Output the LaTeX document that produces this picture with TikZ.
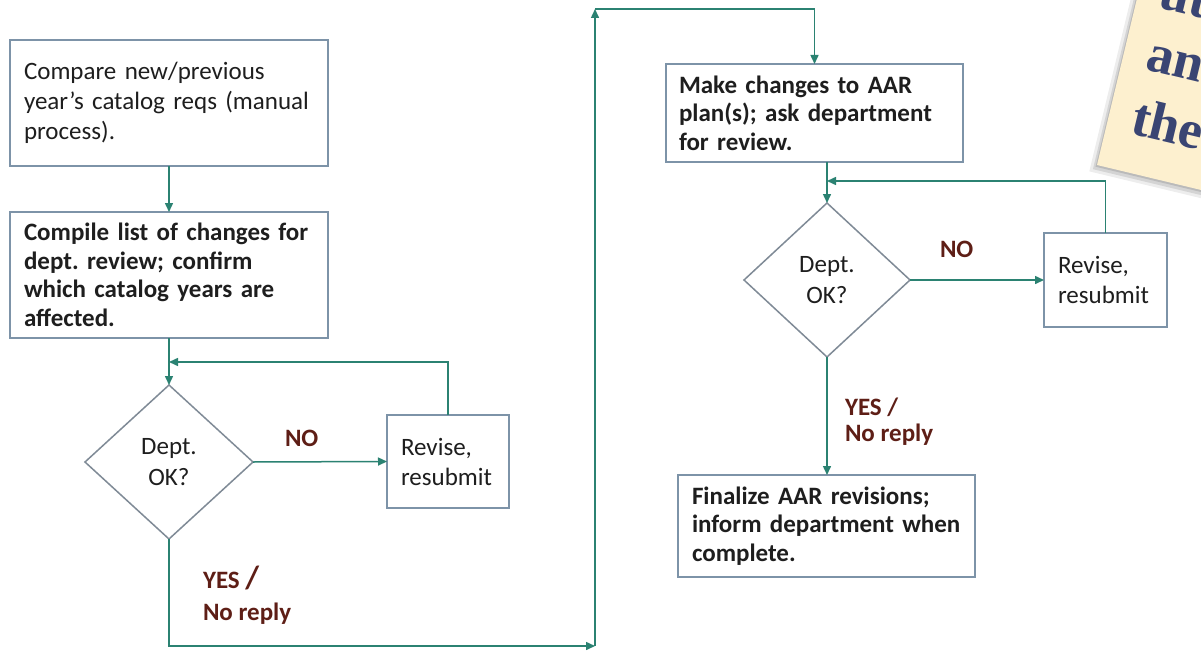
\documentclass[tikz,border=0pt]{standalone}
\usepackage{fontspec}
\setmainfont{Carlito}
\newfontfamily\notefont{Liberation Serif}
\usetikzlibrary{shapes.geometric,arrows.meta}
\definecolor{conncol}{HTML}{2B8272}
\definecolor{boxline}{HTML}{7D93A8}
\definecolor{dline}{HTML}{7F8A96}
\definecolor{lab}{HTML}{5E1E16}
\definecolor{notefill}{HTML}{FDF0CF}
\definecolor{notetext}{HTML}{3A4573}
\definecolor{txt}{HTML}{1E1E1E}
\frenchspacing
\begin{document}
\begin{tikzpicture}[x=1pt,y=-1pt,
  every node/.style={inner sep=0pt, outer sep=0pt},
  stepbox/.style={draw=boxline, line width=1.8pt, fill=white, text=txt, align=left,
    inner xsep=14pt, anchor=north west, font=\fontsize{25}{30}\selectfont},
  boldbox/.style={stepbox, font=\fontsize{25}{28.5}\selectfont\bfseries},
  decision/.style={diamond, draw=dline, line width=1.5pt, fill=white, text=txt,
    align=center, font=\fontsize{25}{31}\selectfont},
  conn/.style={draw=conncol, line width=1.5pt, -{Triangle[length=9pt,width=8pt]}},
  lbl/.style={text=lab, font=\fontsize{25}{30}\selectfont\bfseries, anchor=base west},
  notetxt/.style={text=notetext, font=\notefont\bfseries\fontsize{54}{56}\selectfont, anchor=base west}]
\useasboundingbox (0,0) rectangle (1201,650);
\fill[white] (0,0) rectangle (1201,650);

% sticky note
\begin{scope}
\clip (0,0) rectangle (1201,650);
\begin{scope}[shift={(1097,165)}, rotate=-13.5, transform shape]
  \fill[black, opacity=0.07] (-6,8) rectangle (320,-320);
  \fill[black, opacity=0.10] (-3,5) rectangle (320,-320);
  \fill[black, opacity=0.12] (-1,2) rectangle (320,-320);
  \fill[notefill] (0,0) rectangle (320,-320);
  \node[notetxt] (n1) at (22,-167) {ut};
  \node[notetxt] (n2) at (24,-104) {an};
  \node[notetxt] (n3) at (24,-38) {the};
\end{scope}
\end{scope}

% left column
\node[stepbox, text width=290pt, minimum width=318pt, minimum height=126pt] (b1) at (10,40)
  {Compare new/previous\\year’s catalog reqs (manual\\process).};
\node[boldbox, text width=290pt, minimum width=318pt, minimum height=126pt] (b2) at (10,212)
  {Compile list of changes for\\dept. review; confirm\\which catalog years are\\affected.};
\node[decision, minimum width=168pt, minimum height=154pt] (d1) at (169,462) {Dept.\\OK?};
\node[stepbox, text width=94pt, minimum width=122pt, minimum height=93pt] (r1) at (387,415)
  {Revise,\\resubmit};

% right column
\node[boldbox, text width=271pt, minimum width=297pt, minimum height=98pt, inner xsep=13pt] (b3) at (666,64)
  {Make changes to AAR\\plan(s); ask department\\for review.};
\node[decision, minimum width=166pt, minimum height=154pt] (d2) at (827,280) {Dept.\\OK?};
\node[stepbox, text width=95pt, minimum width=123pt, minimum height=94pt] (r2) at (1044,233)
  {Revise,\\resubmit};
\node[boldbox, text width=269pt, minimum width=297pt, minimum height=102pt] (b4) at (678,475)
  {Finalize AAR revisions;\\inform department when\\complete.};

% coordinates
\coordinate (m1) at (169,362);
\coordinate (m2) at (827,181);
\coordinate (c1) at (595,646);
\coordinate (c2) at (595,9);

% connectors
\draw[conn] (b1.south) -- (b2.north);
\draw[conn] (b2.south) -- (d1.north);
\draw[conn] (r1.north) |- (m1);
\draw[conn] (d1.east) -- (r1.west);
\draw[conn] (d1.south) |- (c1);
\draw[conn] (c1) -- (c2);
\draw[conn] (c2) -| (b3.north);
\draw[conn] (d2.north |- b3.south) -- (d2.north);
\draw[conn] (r2.north) |- (m2);
\draw[conn] (d2.east) -- (r2.west);
\draw[conn] (d2.south) -- (d2.south |- b4.north);

% labels
\node[lbl] (no1) at (285,446.5) {NO};
\node[lbl] (no2) at (940,257) {NO};
\node[lbl] (yes1) at (203,588) {YES {\fontsize{32}{32}\selectfont /}};
\node[lbl] (nr1) at (203,620) {No reply};
\node[lbl] (yes2) at (845,415) {YES /};
\node[lbl] (nr2) at (845,441.5) {No reply};
\end{tikzpicture}
\end{document}
